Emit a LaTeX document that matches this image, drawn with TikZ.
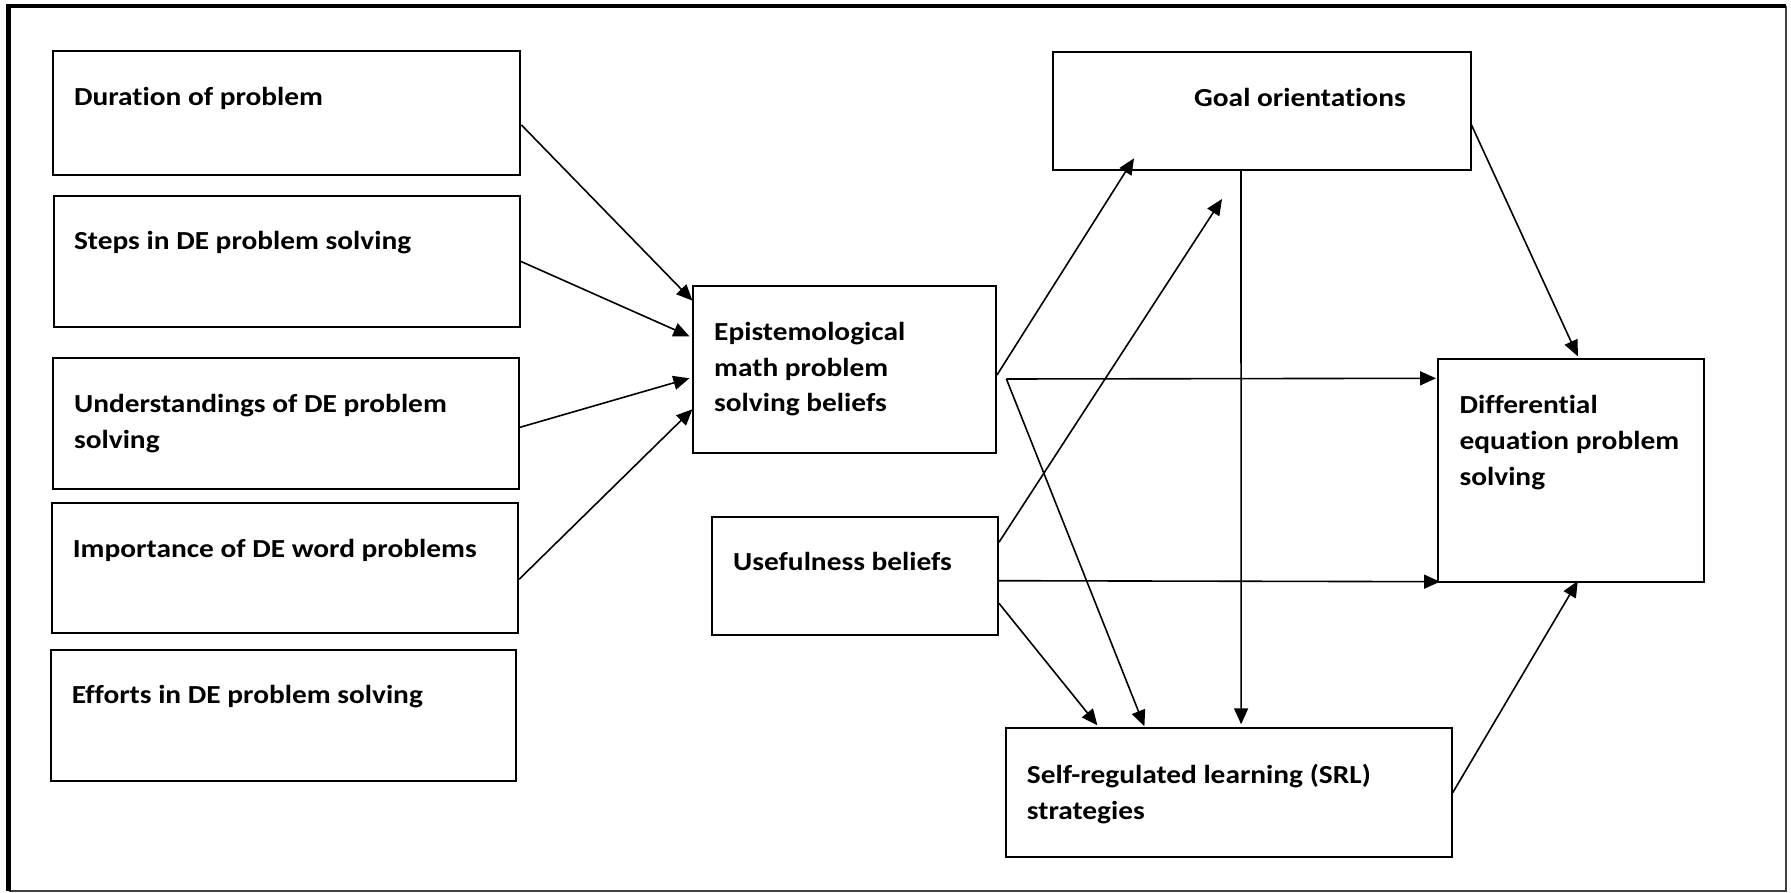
\documentclass[tikz,border=0pt]{standalone}
\usepackage{fontspec}
\setmainfont{Carlito}[FakeStretch=1.13, Ligatures={NoCommon}]
\usetikzlibrary{arrows.meta,calc}
\tikzset{
  box/.style={draw, line width=2pt, inner sep=0pt},
  lbl/.style={anchor=base west, inner sep=0pt, font=\fontsize{26}{36}\selectfont\bfseries},
  conn/.style={line width=1.6pt, -{Triangle[length=16pt,width=14pt]}},
}
\newcommand{\twolines}[2]{\vtop{\hbox{#1}\hbox{#2}}}
\newcommand{\threelines}[3]{\vtop{\hbox{#1}\hbox{#2}\hbox{#3}}}
\begin{document}
\begin{tikzpicture}[x=1pt,y=-1pt]
\useasboundingbox (0,0) rectangle (1791,893);
% outer frame
\draw[line width=2.5pt, black!75] (1786,6) -- (1786,891) -- (8.6,891);
\draw[line width=4.5pt] (8.6,891) -- (8.6,6) -- (1786,6);

% boxes
\node[box, minimum width=467.7pt, minimum height=123.7pt] (dur)   at (286.6,112.9) {};
\node[box, minimum width=466pt,   minimum height=130.7pt] (steps) at (286.6,261.3) {};
\node[box, minimum width=466.2pt, minimum height=130.7pt] (und)   at (285.9,423.7) {};
\node[box, minimum width=465.8pt, minimum height=130.3pt] (imp)   at (285.3,568.2) {};
\node[box, minimum width=465.8pt, minimum height=130.7pt] (eff)   at (283.4,715.3) {};
\node[box, minimum width=302.6pt, minimum height=166.7pt] (epi)   at (844.7,369.3) {};
\node[box, minimum width=286.3pt, minimum height=118.6pt] (use)   at (854.8,576) {};
\node[box, minimum width=445.4pt, minimum height=128.4pt] (srl)   at (1229.1,792.5) {};
\node[box, minimum width=417.8pt, minimum height=117.7pt] (goal)  at (1261.6,111.2) {};
\node[box, minimum width=265.6pt, minimum height=222.4pt] (diff)  at (1570.8,470.5) {};

% texts
\node[lbl] (tdur)   at (73.9,106)    {Duration of problem};
\node[lbl] (tsteps) at (73.9,249.3)  {Steps in DE problem solving};
\node[lbl] (tund)   at (73.9,412.7)  {\twolines{Understandings of DE problem}{solving}};
\node[lbl] (timp)   at (72.7,557.3)  {Importance of DE word problems};
\node[lbl] (teff)   at (71.6,703.3)  {Efforts in DE problem solving};
\node[lbl] (tepi)   at (714,340)     {\threelines{Epistemological}{math problem}{solving beliefs}};
\node[lbl] (tuse)   at (733,570)     {Usefulness beliefs};
\node[lbl] (tsrl)   at (1026.7,783.3){\twolines{Self-regulated learning (SRL)}{strategies}};
\node[lbl] (tgoal)  at (1194,106.7)  {Goal orientations};
\node[lbl] (tdiff)  at (1459.4,413.3){\threelines{Differential}{equation problem}{solving}};

% free points
\coordinate (gfree) at (1222,199);
\coordinate (fork) at (1006.4,379);

% connectors into epi
\draw[conn] ($(dur.east)+(0,12.1)$) -- ($(epi.north west)+(0,15.7)$);
\draw[conn] (steps.east) -- ($(epi.west)+(-3,-33)$);
\draw[conn] ($(und.east)+(0,3.6)$) -- ($(epi.west)+(-3,9)$);
\draw[conn] ($(imp.east)+(0,11)$) -- ($(epi.west)+(0,40)$);

% right part
\draw[conn] ($(epi.east)+(0,5.7)$) -- ($(goal.south west)+(82.3,-12.7)$);
\draw[conn] ($(use.north east)+(0,26.6)$) -- (gfree);
\draw[conn] (fork) -- ($(diff.north west)+(-1,20)$);
\draw[conn] (fork) -- ($(srl.north west)+(139,-1)$);
\draw[conn] ($(use.east)+(0,4.7)$) -- ($(diff.south west)+(3,-1)$);
\draw[conn] ($(use.east)+(0,27.3)$) -- ($(srl.north west)+(92,-2)$);
\draw[conn] ($(goal.south)+(-20.6,0)$) -- ($(srl.north)+(12,-3)$);
\draw[conn] ($(goal.east)+(0,13.8)$) -- ($(diff.north)+(7,-2)$);
\draw[conn] (srl.east) -- ($(diff.south)+(7,-1.7)$);
\end{tikzpicture}
\end{document}
